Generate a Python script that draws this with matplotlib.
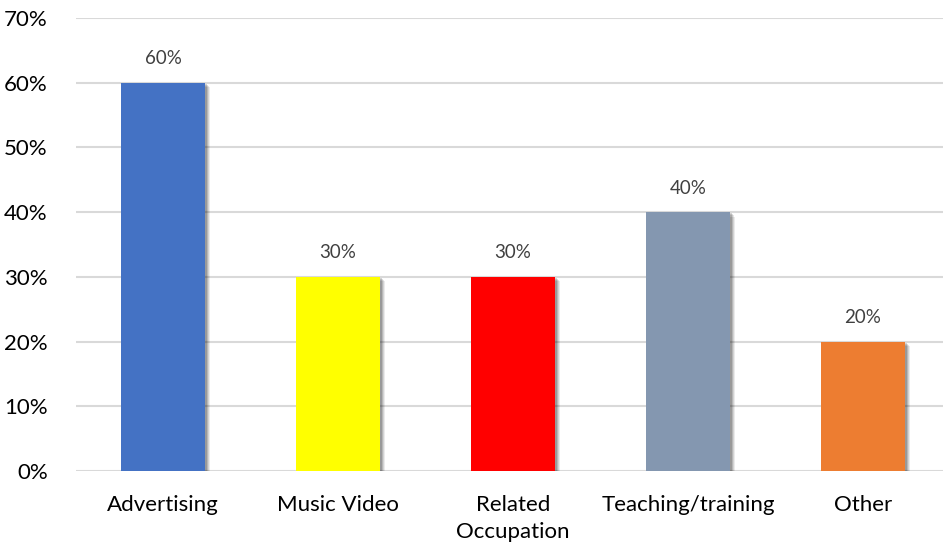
import numpy as np
import matplotlib
matplotlib.use('Agg')
import matplotlib.pyplot as plt
from matplotlib.ticker import PercentFormatter

plt.rcParams['font.family'] = ['Lato', 'DejaVu Sans']

categories = ['Advertising', 'Music Video', 'Related\nOccupation', 'Teaching/training', 'Other']
values = [60, 30, 30, 40, 20]
colors = ['#4472C4', '#FFFF00', '#FF0000', '#8497B0', '#ED7D31']

x = np.arange(len(categories))
width = 0.48

fig = plt.figure(figsize=(9.43, 5.44), dpi=100)
ax = fig.add_axes([75.5/943, 1 - 471/544, 875/943, (471 - 18)/544])

# soft shadow, built from a few offset translucent bars
for dx, dy, a in [(0.030, -0.7, 0.08), (0.023, -0.5, 0.10), (0.016, -0.35, 0.13), (0.009, -0.2, 0.16)]:
    ax.bar(x + dx, values, width, bottom=dy, color='black', alpha=a,
           linewidth=0, zorder=2)

ax.bar(x, values, width, color=colors, linewidth=0, zorder=3)

for xi, v in zip(x, values):
    ax.text(xi, v + 3.7, f'{v}%', ha='center', va='center', fontsize=13.5, color='#404040')

ax.set_ylim(0, 70)
ax.set_xlim(-0.5, len(categories) - 0.5)
ax.set_yticks(np.arange(0, 71, 10))
ax.yaxis.set_major_formatter(PercentFormatter(decimals=0))
ax.set_xticks(x)
ax.set_xticklabels(categories, linespacing=1.45)
ax.tick_params(length=0, labelsize=16, labelcolor='black')
ax.tick_params(axis='y', pad=20)
ax.tick_params(axis='x', pad=17)
ax.grid(axis='y', color='#D9D9D9', linewidth=1.5, zorder=0)
ax.set_axisbelow(True)
for s in ax.spines.values():
    s.set_visible(False)

fig.savefig('out.png', dpi=100)
